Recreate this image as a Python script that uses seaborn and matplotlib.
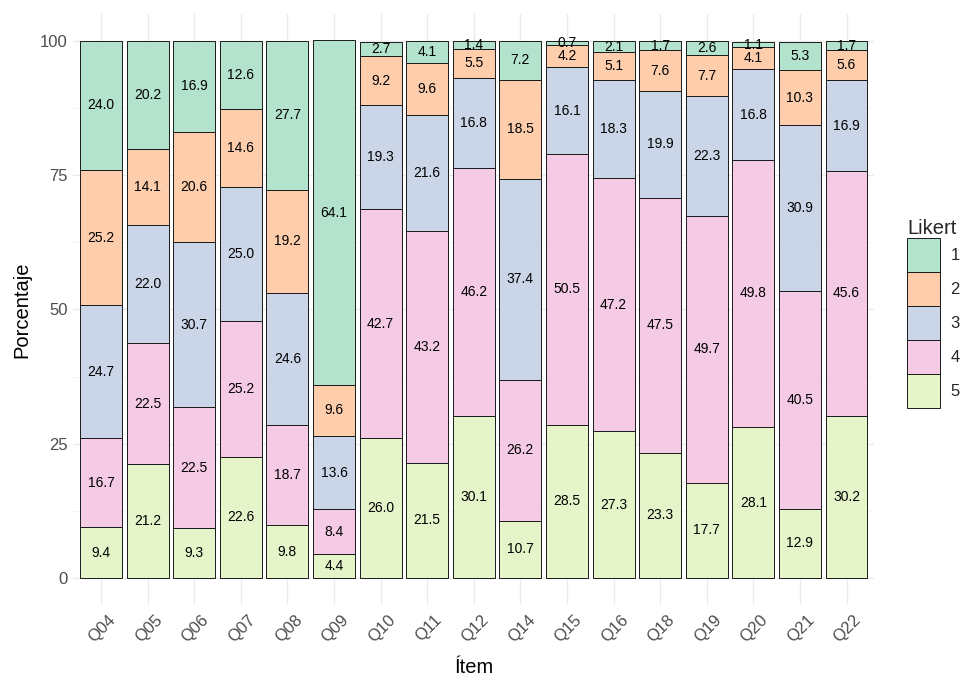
"""Stacked Likert percentages per item."""

import matplotlib

matplotlib.use("Agg")
import matplotlib.pyplot as plt
import matplotlib.transforms as mtransforms
import numpy as np
import pandas as pd
import seaborn as sns
from matplotlib.patches import Patch

items = ["Q04", "Q05", "Q06", "Q07", "Q08", "Q09", "Q10", "Q11", "Q12",
         "Q14", "Q15", "Q16", "Q18", "Q19", "Q20", "Q21", "Q22"]
likert_levels = ["1", "2", "3", "4", "5"]
pct_1 = [24.0, 20.2, 16.9, 12.6, 27.7, 64.1, 2.7, 4.1, 1.4, 7.2, 0.7, 2.1, 1.7, 2.6, 1.1, 5.3, 1.7]
pct_2 = [25.2, 14.1, 20.6, 14.6, 19.2, 9.6, 9.2, 9.6, 5.5, 18.5, 4.2, 5.1, 7.6, 7.7, 4.1, 10.3, 5.6]
pct_3 = [24.7, 22.0, 30.7, 25.0, 24.6, 13.6, 19.3, 21.6, 16.8, 37.4, 16.1, 18.3, 19.9, 22.3, 16.8, 30.9, 16.9]
pct_4 = [16.7, 22.5, 22.5, 25.2, 18.7, 8.4, 42.7, 43.2, 46.2, 26.2, 50.5, 47.2, 47.5, 49.7, 49.8, 40.5, 45.6]
pct_5 = [9.4, 21.2, 9.3, 22.6, 9.8, 4.4, 26.0, 21.5, 30.1, 10.7, 28.5, 27.3, 23.3, 17.7, 28.1, 12.9, 30.2]
y_ticks = [0, 25, 50, 75, 100]

series = {"1": pct_1, "2": pct_2, "3": pct_3, "4": pct_4, "5": pct_5}
df = pd.DataFrame(
    [(item, lvl, series[lvl][i]) for lvl in likert_levels for i, item in enumerate(items)],
    columns=["item", "likert", "pct"],
)
df["item"] = pd.Categorical(df["item"], categories=items, ordered=True)

palette = dict(zip(likert_levels, sns.color_palette("Pastel2", 5)))

sns.set_theme(style="whitegrid")
plt.rcParams["font.family"] = ["Liberation Sans", "DejaVu Sans"]

fig = plt.figure(figsize=(9.62, 6.75), dpi=100)
ax = fig.add_axes([0.076, 0.104, 0.833, 0.875])

sns.histplot(
    data=df, x="item", weights="pct", hue="likert", hue_order=likert_levels,
    multiple="stack", discrete=True, shrink=0.9, palette=palette,
    edgecolor="#1a1a1a", linewidth=0.7, alpha=1, legend=False, ax=ax,
)

# segment labels at the middle of each stacked block (level 5 at bottom)
bottom = np.zeros(len(items))
for lvl in reversed(likert_levels):
    vals = np.array(series[lvl])
    for i, v in enumerate(vals):
        ax.text(i, bottom[i] + v / 2, f"{v:.1f}", ha="center", va="center",
                fontsize=10, color="black")
    bottom += vals

ax.set_xlim(-0.6, len(items) - 0.4)
ax.set_ylim(-5, 105)
ax.set_yticks(y_ticks)
ax.set_yticks([12.5, 37.5, 62.5, 87.5], minor=True)
ax.grid(which="major", color="#EBEBEB", linewidth=1.0)
ax.grid(which="minor", axis="y", color="#F4F4F4", linewidth=0.6)
ax.set_axisbelow(True)
for s in ax.spines.values():
    s.set_visible(False)
ax.tick_params(axis="both", which="both", length=0, colors="#4D4D4D",
               labelsize=12, pad=4)
ax.set_xticks(range(len(items)))
ax.set_xticklabels(items, rotation=45, ha="right", rotation_mode="anchor")
shift = mtransforms.ScaledTranslation(7 / 100, -2 / 100, fig.dpi_scale_trans)
for lab in ax.get_xticklabels():
    lab.set_transform(lab.get_transform() + shift)
ax.set_xlabel("Ítem", fontsize=14.5, color="black", labelpad=9)
ax.set_ylabel("Porcentaje", fontsize=14.5, color="black", labelpad=6)

handles = [Patch(facecolor=palette[l], edgecolor="#1a1a1a", linewidth=0.7) for l in likert_levels]
fig.legend(
    handles, likert_levels, title="Likert", loc="center left",
    bbox_to_anchor=(0.943, 0.535), frameon=False, fontsize=12,
    title_fontsize=14.5, handlelength=2.0, handleheight=2.76,
    labelspacing=0.0, handletextpad=0.6, alignment="left",
    borderaxespad=0, borderpad=0,
)

fig.savefig("out.png", dpi=100)
